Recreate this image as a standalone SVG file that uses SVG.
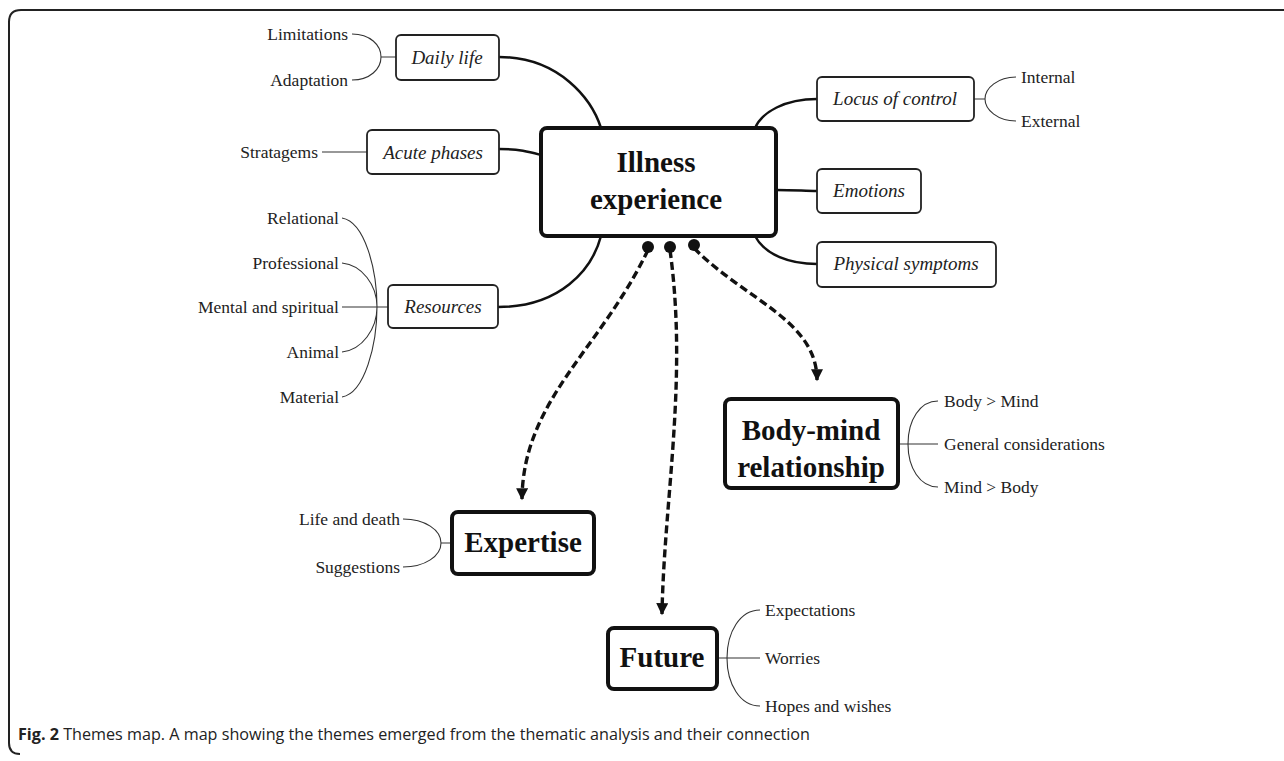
<svg xmlns="http://www.w3.org/2000/svg" width="1284" height="761" viewBox="0 0 1284 761">
<defs>
<style>
.frame{fill:none;stroke:#222;stroke-width:2}
.main{fill:#fff;stroke:#111;stroke-width:4}
.sub{fill:#fff;stroke:#222;stroke-width:1.8}
.conn{fill:none;stroke:#111;stroke-width:2.5}
.br{fill:none;stroke:#333;stroke-width:1.1}
.dash{fill:none;stroke:#111;stroke-width:3.4;stroke-dasharray:8 4}
.tm{font-family:"Liberation Serif","Times New Roman",serif;font-weight:bold;font-size:29px;fill:#111;text-anchor:middle}
.ti{font-family:"Liberation Serif","Times New Roman",serif;font-style:italic;font-size:19px;fill:#222;text-anchor:middle}
.ts{font-family:"Liberation Serif","Times New Roman",serif;font-size:17.5px;fill:#222}
.r{text-anchor:end}
.cap{font-family:"Open Sans","Liberation Sans",sans-serif;font-size:16.5px;fill:#222}
</style>
<marker id="ah" viewBox="0 0 10 10" refX="9" refY="5" markerWidth="13" markerHeight="12" markerUnits="userSpaceOnUse" orient="auto">
<path d="M0,0 L10,5 L0,10 Z" fill="#111"/>
</marker>
</defs>
<rect width="1284" height="761" fill="#fff"/>
<path class="frame" d="M20,754 Q9,754 9,743 V22 Q9,10 21,10 H1284"/>

<g id="connectors">
<path class="conn" d="M499,57 C560,57 592,100 601,128"/>
<path class="conn" d="M499,149 C520,149 530,152 541,155"/>
<path class="conn" d="M498,307 C560,307 592,270 601,236"/>
<path class="conn" d="M817,99 C785,99 762,112 755,128"/>
<path class="conn" d="M776,190 C795,190 805,191 817,191"/>
<path class="conn" d="M755,236 C765,255 790,264 817,264"/>
<circle cx="648" cy="247" r="6" fill="#111"/>
<circle cx="670" cy="247" r="6" fill="#111"/>
<circle cx="694" cy="245" r="6" fill="#111"/>
<path class="dash" d="M648,250 C600,350 523,400 522,499" marker-end="url(#ah)"/>
<path class="dash" d="M670,250 C688,380 664,500 662,614" marker-end="url(#ah)"/>
<path class="dash" d="M694,248 C745,300 817,320 817,380" marker-end="url(#ah)"/>
<path class="br" d="M352,34 C370,34 381,45 381,57 C381,69 370,80 352,80 M381,57 H396"/>
<path class="br" d="M322,152 H367"/>
<path class="br" d="M342,218 C365,222 377,270 377,307 C377,344 365,393 342,397 M342,263 C362,265 377,285 377,307 C377,329 362,350 342,352 M342,307 H388"/>
<path class="br" d="M1016,77 C998,77 985,88 985,99 C985,110 998,121 1016,121 M974,99 H985"/>
<path class="br" d="M938,401 C920,401 908,420 908,444 C908,468 920,487 938,487 M898,444 H938"/>
<path class="br" d="M403,519 C425,519 441,530 441,543 C441,556 425,567 403,567 M441,543 H452"/>
<path class="br" d="M760,610 C740,610 727,632 727,658 C727,684 740,706 760,706 M717,658 H760"/>
</g>

<g id="illness-experience">
<rect class="main" x="541" y="128" width="235" height="108" rx="6"/>
<text class="tm" x="656" y="172">Illness</text>
<text class="tm" x="656" y="209">experience</text>
</g>
<g id="daily-life">
<rect class="sub" x="396" y="35" width="103" height="45" rx="5"/>
<text class="ti" x="447" y="64">Daily life</text>
<text class="ts r" x="348" y="40">Limitations</text>
<text class="ts r" x="348" y="86">Adaptation</text>
</g>
<g id="acute-phases">
<rect class="sub" x="367" y="130" width="132" height="44" rx="5"/>
<text class="ti" x="433" y="159">Acute phases</text>
<text class="ts r" x="318" y="158">Stratagems</text>
</g>
<g id="resources">
<rect class="sub" x="388" y="285" width="110" height="43" rx="5"/>
<text class="ti" x="443" y="313">Resources</text>
<text class="ts r" x="339" y="224">Relational</text>
<text class="ts r" x="339" y="269">Professional</text>
<text class="ts r" x="339" y="313">Mental and spiritual</text>
<text class="ts r" x="339" y="358">Animal</text>
<text class="ts r" x="339" y="403">Material</text>
</g>
<g id="locus-of-control">
<rect class="sub" x="817" y="77" width="157" height="44" rx="5"/>
<text class="ti" x="895" y="105">Locus of control</text>
<text class="ts" x="1021" y="83">Internal</text>
<text class="ts" x="1021" y="127">External</text>
</g>
<g id="emotions">
<rect class="sub" x="817" y="169" width="104" height="44" rx="5"/>
<text class="ti" x="869" y="197">Emotions</text>
</g>
<g id="physical-symptoms">
<rect class="sub" x="817" y="242" width="179" height="45" rx="5"/>
<text class="ti" x="906" y="270">Physical symptoms</text>
</g>
<g id="body-mind-relationship">
<rect class="main" x="725" y="399" width="173" height="89" rx="6"/>
<text class="tm" x="811" y="440">Body-mind</text>
<text class="tm" x="811" y="477">relationship</text>
<text class="ts" x="944" y="407">Body &gt; Mind</text>
<text class="ts" x="944" y="450">General considerations</text>
<text class="ts" x="944" y="493">Mind &gt; Body</text>
</g>
<g id="expertise">
<rect class="main" x="452" y="512" width="142" height="62" rx="6"/>
<text class="tm" x="523" y="552">Expertise</text>
<text class="ts r" x="400" y="525">Life and death</text>
<text class="ts r" x="400" y="573">Suggestions</text>
</g>
<g id="future">
<rect class="main" x="608" y="628" width="109" height="61" rx="6"/>
<text class="tm" x="662" y="667">Future</text>
<text class="ts" x="765" y="616">Expectations</text>
<text class="ts" x="765" y="664">Worries</text>
<text class="ts" x="765" y="712">Hopes and wishes</text>
</g>
<text class="cap" x="18" y="740" textLength="792" lengthAdjust="spacingAndGlyphs"><tspan font-weight="bold">Fig. 2</tspan> Themes map. A map showing the themes emerged from the thematic analysis and their connection</text>
</svg>
